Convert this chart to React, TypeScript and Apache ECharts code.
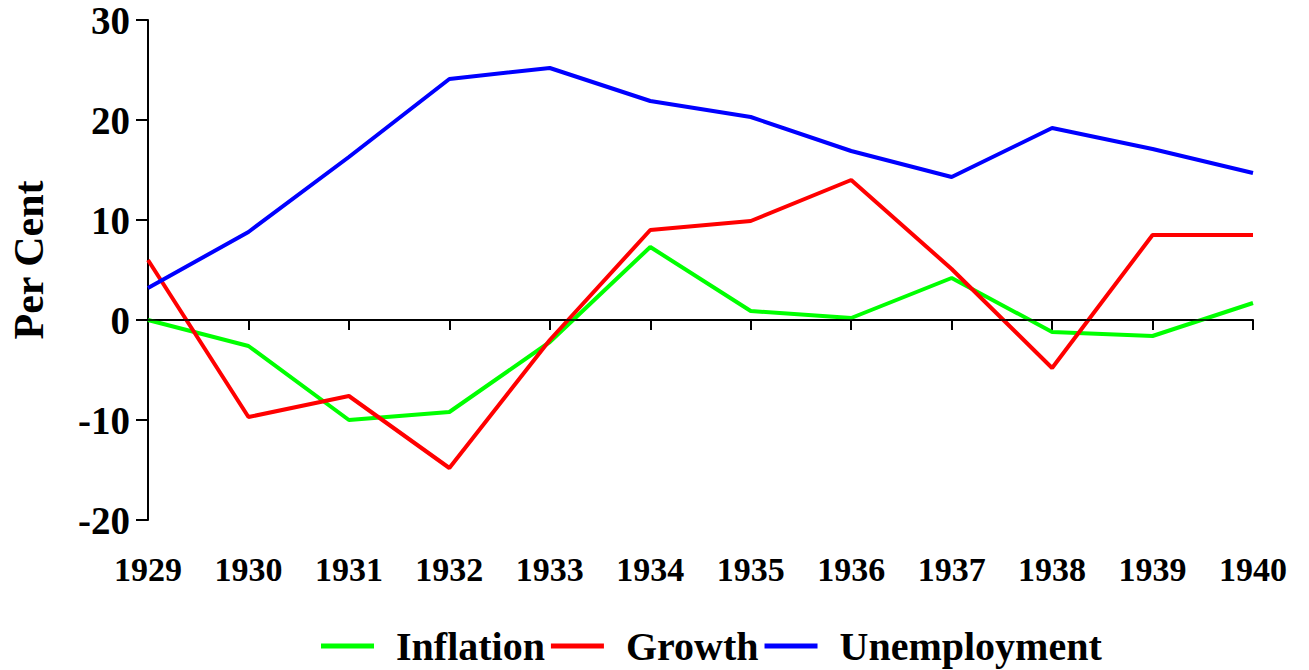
import React, { useEffect, useRef } from "react";
import * as echarts from "echarts";

const years = ["1929", "1930", "1931", "1932", "1933", "1934", "1935", "1936", "1937", "1938", "1939", "1940"];
const inflation = [0, -2.6, -10.0, -9.2, -2.2, 7.3, 0.9, 0.2, 4.2, -1.2, -1.6, 1.7];
const growth = [6.0, -9.7, -7.6, -14.8, -2.0, 9.0, 9.9, 14.0, 5.1, -4.8, 8.5, 8.5];
const unemployment = [3.2, 8.8, 16.3, 24.1, 25.2, 21.9, 20.3, 16.9, 14.3, 19.2, 17.1, 14.7];

const FONT = "'Liberation Serif', 'Times New Roman', serif";

export default function App() {
  const ref = useRef<HTMLDivElement>(null);
  useEffect(() => {
    if (!ref.current) return;
    const chart = echarts.init(ref.current, null, { renderer: "svg" });
    const mk = (name: string, data: number[], color: string, extra: any = {}) => ({
      name,
      type: "line",
      data,
      symbol: "none",
      lineStyle: { color, width: 4 },
      itemStyle: { color },
      ...extra,
    });
    chart.setOption({
      animation: false,
      backgroundColor: "#ffffff",
      grid: { left: 145, right: 56, top: 20, bottom: 150, containLabel: false },
      legend: {
        left: 316,
        top: 620,
        icon: "rect",
        itemWidth: 53,
        itemHeight: 5,
        itemGap: 6,
        textStyle: {
          fontFamily: FONT,
          fontWeight: "bold",
          fontSize: 40,
          lineHeight: 42,
          color: "#000",
          padding: [0, 0, 0, 17],
        },
        data: ["Inflation", "Growth", "Unemployment"],
      },
      xAxis: {
        type: "category",
        data: years,
        boundaryGap: false,
        axisLine: { lineStyle: { color: "#000", width: 2 } },
        axisTick: { show: true, length: 10, alignWithLabel: true, lineStyle: { color: "#000", width: 2 } },
        axisLabel: {
          color: "#000",
          fontFamily: FONT,
          fontWeight: "bold",
          fontSize: 34,
          margin: 32,
          interval: 0,
        },
        splitLine: { show: false },
      },
      yAxis: {
        type: "value",
        min: -20,
        max: 30,
        interval: 10,
        name: "Per Cent",
        nameLocation: "middle",
        nameGap: 98,
        nameRotate: 90,
        nameTextStyle: {
          color: "#000",
          fontFamily: FONT,
          fontWeight: "bold",
          fontSize: 42,
          padding: [0, 0, 0, 20],
        },
        axisLine: { show: true, lineStyle: { color: "#000", width: 2 } },
        axisTick: { show: true, length: 12, lineStyle: { color: "#000", width: 2 } },
        axisLabel: {
          color: "#000",
          fontFamily: FONT,
          fontWeight: "bold",
          fontSize: 39,
          margin: 18,
        },
        splitLine: { show: false },
      },
      series: [
        mk("Inflation", inflation, "#00ff00", {
          markLine: {
            silent: true,
            symbol: "none",
            label: { show: false },
            lineStyle: { color: "#000", width: 1.5, type: "solid" },
            data: [{ yAxis: 0 }],
          },
        }),
        mk("Growth", growth, "#ff0000"),
        mk("Unemployment", unemployment, "#0000ff"),
      ],
    });
    return () => chart.dispose();
  }, []);
  return <div ref={ref} style={{ width: 1309, height: 670, position: "absolute", left: 0, top: 0 }} />;
}
